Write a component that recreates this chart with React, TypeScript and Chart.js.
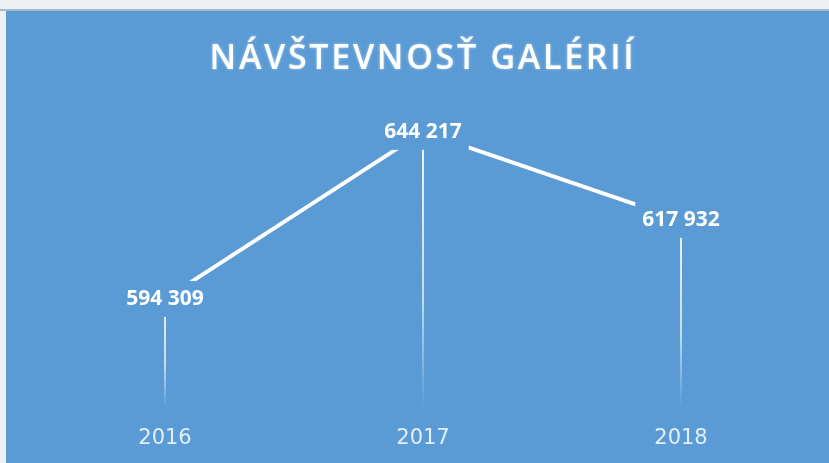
import React, { useEffect, useRef } from "react";
import { Chart, registerables } from "chart.js";

Chart.register(...registerables);

const categories = ["2016", "2017", "2018"];
const visitors = [594309, 644217, 617932];
const chartTitle = "NÁVŠTEVNOSŤ GALÉRIÍ";
const yMin = 560000;
const yMax = 660000;

const BLUE = "rgb(91,155,213)";

const fmt = (v: number) => String(v).replace(/\B(?=(\d{3})+(?!\d))/g, " ");

const customPlugin = {
  id: "custom",
  beforeDraw(chart: any) {
    const ctx = chart.ctx;
    ctx.save();
    ctx.font = "600 34px 'Open Sans'";
    (ctx as any).letterSpacing = "2.7px";
    ctx.fillStyle = "#ffffff";
    ctx.textAlign = "center";
    ctx.textBaseline = "middle";
    ctx.shadowColor = "rgba(255,255,255,0.5)";
    ctx.shadowBlur = 3;
    ctx.fillText(chartTitle, 417, 48);
    ctx.restore();
  },
  beforeDatasetsDraw(chart: any) {
    const ctx = chart.ctx;
    const meta = chart.getDatasetMeta(0);
    const bottom = chart.chartArea.bottom - 6;
    ctx.save();
    meta.data.forEach((pt: any) => {
      const g = ctx.createLinearGradient(0, pt.y, 0, bottom);
      g.addColorStop(0, "rgba(255,255,255,0.9)");
      g.addColorStop(0.6, "rgba(255,255,255,0.65)");
      g.addColorStop(1, "rgba(255,255,255,0)");
      ctx.strokeStyle = g;
      ctx.lineWidth = 2;
      ctx.beginPath();
      ctx.moveTo(pt.x, pt.y);
      ctx.lineTo(pt.x, bottom);
      ctx.stroke();
    });
    ctx.restore();
  },
  afterDatasetsDraw(chart: any) {
    const ctx = chart.ctx;
    const meta = chart.getDatasetMeta(0);
    const data = chart.data.datasets[0].data;
    ctx.save();
    ctx.font = "bold 21px 'Open Sans'";
    ctx.textAlign = "center";
    ctx.textBaseline = "middle";
    meta.data.forEach((pt: any, i: number) => {
      const text = fmt(data[i]);
      const w = ctx.measureText(text).width;
      ctx.fillStyle = BLUE;
      ctx.fillRect(pt.x - w / 2 - 7, pt.y - 18, w + 14, 36);
      ctx.fillStyle = "#ffffff";
      ctx.fillText(text, pt.x, pt.y);
    });
    ctx.restore();
  },
};

function LineChart() {
  const ref = useRef<HTMLCanvasElement>(null);
  useEffect(() => {
    document.body.style.margin = "0";
    const chart = new Chart(ref.current!, {
      type: "line",
      data: {
        labels: categories,
        datasets: [
          {
            data: visitors,
            borderColor: "#ffffff",
            borderWidth: 4,
            pointRadius: 0,
            tension: 0,
            fill: false,
          },
        ],
      },
      options: {
        responsive: false,
        animation: false,
        layout: { padding: { left: 30, right: 19, top: 68, bottom: 0 } },
        plugins: {
          legend: { display: false },
          title: { display: false },
          tooltip: { enabled: false },
        },
        scales: {
          x: {
            offset: true,
            grid: { display: false, drawTicks: false },
            border: { display: false },
            ticks: {
              color: "#e2eef9",
              padding: 12,
              font: { family: "'DejaVu Sans'", size: 21 },
            },
          },
          y: {
            display: false,
            min: yMin,
            max: yMax,
          },
        },
      },
      plugins: [customPlugin],
    });
    return () => chart.destroy();
  }, []);
  return <canvas ref={ref} width={823} height={452} style={{ display: "block" }} />;
}

export default function App() {
  return (
    <div style={{ position: "relative", width: 829, height: 463, background: "#eef1f4", overflow: "hidden" }}>
      <div style={{ position: "absolute", left: 0, top: 9, width: 829, height: 2, background: "#aab9c8" }} />
      <div style={{ position: "absolute", left: 6, top: 11, width: 823, height: 452, background: BLUE }}>
        <LineChart />
      </div>
    </div>
  );
}
